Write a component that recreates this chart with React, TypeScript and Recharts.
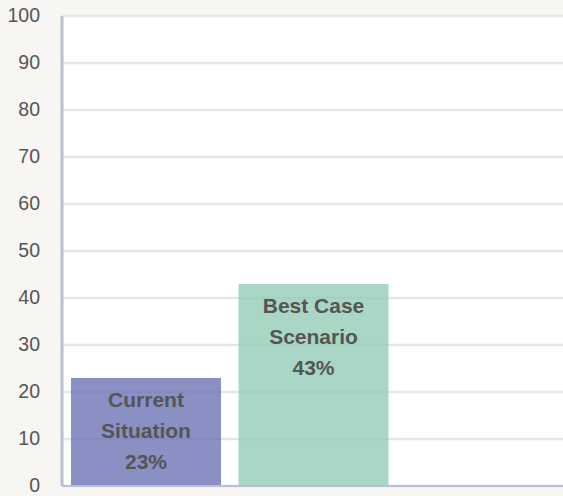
import React from 'react';
import { BarChart, Bar, XAxis, YAxis, CartesianGrid, Cell } from 'recharts';

const categories = ['Current Situation', 'Best Case Scenario'];
const labelLines = [['Current', 'Situation'], ['Best Case', 'Scenario']];
const values = [23, 43];
const barColors = ['#6d73b5', '#94ccb7'];
const yTicks = [0, 10, 20, 30, 40, 50, 60, 70, 80, 90, 100];

const data = categories.map((name, i) => ({ name, value: values[i] }));

const FONT = '"Liberation Sans", Arial, sans-serif';

const BarLabel = (props: any) => {
  const { x, y, width, index } = props;
  const lines = [...labelLines[index], `${values[index]}%`];
  const cx = x + width / 2;
  return (
    <text x={cx} y={y + 29} textAnchor="middle" fill="#555" fontFamily={FONT} fontSize={21} fontWeight="bold">
      {lines.map((l, i) => (
        <tspan key={i} x={cx} dy={i === 0 ? 0 : 31}>{l}</tspan>
      ))}
    </text>
  );
};

const YTick = (props: any) => {
  const { x, y, payload } = props;
  return (
    <text x={x} y={y + 6} textAnchor="end" fill="#555" fontFamily={FONT} fontSize={19.5}>
      {payload.value}
    </text>
  );
};

const App: React.FC = () => {
  return (
    <div style={{ position: 'fixed', left: 0, top: 0, width: 563, height: 496, background: '#f7f6f2' }}>
      <BarChart
        width={563}
        height={496}
        data={data}
        margin={{ top: 16, right: 0, bottom: 9, left: 1 }}
        barCategoryGap={9}
      >
        <CartesianGrid vertical={false} stroke="#e3e6ed" strokeWidth={2.5} fill="#ffffff" />
        <XAxis
          dataKey="name"
          tick={false}
          tickLine={false}
          height={1}
          stroke="#b9c0d1"
          strokeWidth={2}
          padding={{ left: 0, right: 166 }}
        />
        <YAxis
          domain={[0, 100]}
          ticks={yTicks}
          width={61}
          tickLine={false}
          tickMargin={16}
          stroke="#b9c0d1"
          strokeWidth={3}
          interval={0}
          tick={<YTick />}
        />
        <Bar dataKey="value" isAnimationActive={false} fillOpacity={0.8} label={<BarLabel />}>
          {data.map((d, i) => (
            <Cell key={d.name} fill={barColors[i]} />
          ))}
        </Bar>
      </BarChart>
    </div>
  );
};

export default App;
